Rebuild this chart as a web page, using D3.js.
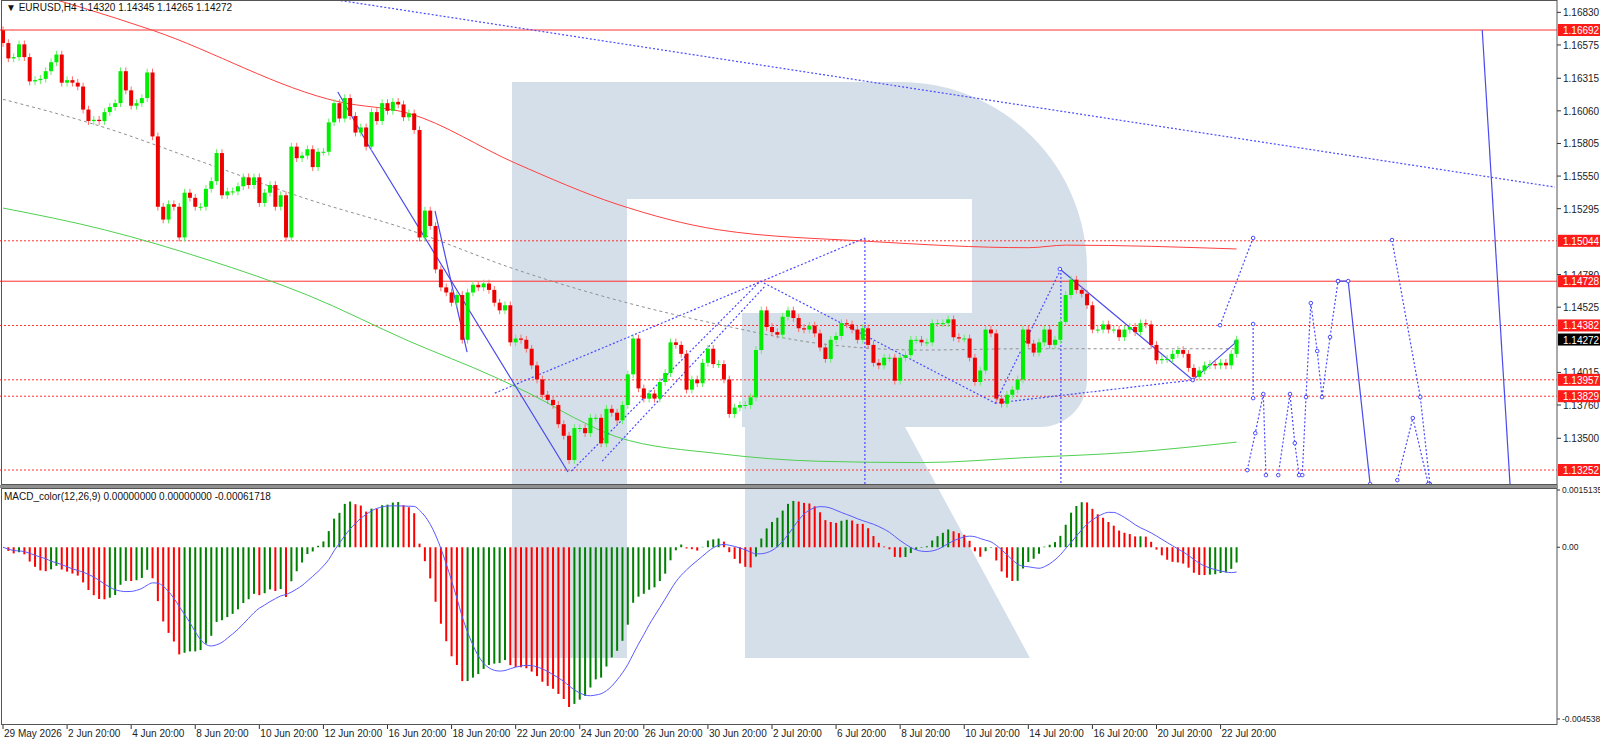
<!DOCTYPE html>
<html>
<head>
<meta charset="utf-8">
<script src="https://cdn.jsdelivr.net/npm/d3@7"></script>
<style>
  html, body { margin: 0; padding: 0; background: #fff; }
  text { font-family: "Liberation Sans", "DejaVu Sans", sans-serif; }
</style>
</head>
<body>
<svg id="chart" width="1600" height="741"></svg>
<script>
// H4 closes, 29 May 2026 -> 22 Jul 2026 20:00
const firstOpen = 1.1669;
const closes = [
  1.1659,1.1647,1.1648,1.1658,1.1648,1.1629,1.1630,1.1631,1.1637,1.1644,
  1.1650,1.1628,1.1630,1.1628,1.1625,1.1607,1.1598,1.1599,1.1598,1.1605,
  1.1609,1.1612,1.1637,1.1622,1.1610,1.1612,1.1616,1.1636,1.1586,1.1531,
  1.1521,1.1533,1.1531,1.1507,1.1542,1.1538,1.1531,1.1531,1.1545,1.1551,
  1.1573,1.1540,1.1543,1.1543,1.1547,1.1554,1.1548,1.1554,1.1534,1.1542,
  1.1548,1.1531,1.1540,1.1507,1.1578,1.1569,1.1571,1.1576,1.1562,1.1574,
  1.1574,1.1597,1.1612,1.1600,1.1616,1.1602,1.1589,1.1593,1.1578,1.1605,
  1.1598,1.1612,1.1606,1.1613,1.1611,1.1601,1.1604,1.1591,1.1507,
  1.1528,1.1516,1.1482,1.1468,1.1464,1.1456,1.1462,1.1427,1.1464,1.1470,
  1.1468,1.1471,1.1466,1.1456,1.1450,1.1454,1.1425,1.1428,1.1427,1.1420,
  1.1407,1.1396,1.1384,1.1380,1.1376,1.1361,1.1352,1.1333,1.1358,1.1358,
  1.1354,1.1366,1.1366,1.1346,1.1373,1.1370,1.1364,1.1376,1.1400,1.1428,
  1.1389,1.1381,1.1385,1.1381,1.1394,1.1401,1.1425,1.1423,1.1416,1.1388,
  1.1396,1.1393,1.1409,1.1420,1.1408,1.1408,1.1396,1.1369,1.1374,1.1376,
  1.1376,1.1382,1.1419,1.1450,1.1437,1.1433,1.1431,1.1445,1.1450,1.1444,
  1.1436,1.1435,1.1438,1.1432,1.1421,1.1412,1.1427,
  1.1430,1.1440,1.1439,1.1435,1.1427,1.1436,1.1423,1.1409,1.1407,1.1413,
  1.1413,1.1395,1.1413,1.1415,1.1427,1.1427,1.1425,1.1425,1.1440,1.1440,
  1.1440,1.1443,1.1429,1.1428,1.1428,1.1413,1.1394,1.1403,1.1435,1.1432,
  1.1381,1.1377,1.1384,1.1388,1.1396,1.1435,1.1424,1.1417,1.1425,1.1435,
  1.1423,1.1427,1.1441,1.1462,1.1474,1.1466,1.1463,1.1454,1.1435,1.1435,
  1.1439,1.1435,1.1435,1.1429,1.1435,1.1437,1.1433,1.1440,1.1439,1.1423,
  1.1411,1.1412,1.1412,1.1416,1.1419,1.1416,1.1405,1.1398,1.1403,1.1407,
  1.1408,1.1407,1.1409,1.1407,1.1416,1.14272
];
const wickPad = 0.0003;

const dateLabels = ["29 May 2026","2 Jun 20:00","4 Jun 20:00","8 Jun 20:00","10 Jun 20:00",
  "12 Jun 20:00","16 Jun 20:00","18 Jun 20:00","22 Jun 20:00","24 Jun 20:00","26 Jun 20:00",
  "30 Jun 20:00","2 Jul 20:00","6 Jul 20:00","8 Jul 20:00","10 Jul 20:00","14 Jul 20:00",
  "16 Jul 20:00","20 Jul 20:00","22 Jul 20:00"];
const labelEvery = 12;

const priceTicks = [1.16830,1.16575,1.16315,1.16060,1.15805,1.15550,1.15295,1.14780,1.14525,1.14015,1.13760,1.13500];
const solidLevels = [1.16692, 1.14728];
const dottedLevels = [1.15044, 1.14382, 1.13957, 1.13829, 1.13252];
const lastPrice = 1.14272;

// moving averages, [bar, price]
const maRed = [[0,1.1705],[28,1.1669],[63,1.1613],[76,1.1604],[96,1.1565],[115,1.1533],[134,1.1513],[162,1.1504],[192,1.1499],[199,1.1501],[231,1.1498]];
const maGray = [[0,1.1615],[19,1.1593],[38,1.1565],[57,1.1537],[76,1.1513],[96,1.1482],[115,1.1458],[134,1.1439],[153,1.1424],[172,1.1419],[192,1.1420],[231,1.1420]];
const maGreen = [[0,1.1530],[19,1.1513],[38,1.1490],[57,1.1462],[76,1.1426],[92,1.1398],[100,1.1382],[107,1.1366],[115,1.1351],[134,1.1338],[153,1.1332],[172,1.1331],[192,1.1335],[211,1.1339],[231,1.1347]];

// wave markup, [bar, price]
const solidWaves = [
  [[62.7,1.16207],[68.4,1.15793],[105.8,1.13236]],
  [[80.9,1.15277],[86.9,1.14174]],
  [[197.9,1.14823],[222.8,1.13955],[230.9,1.14252]],
  [[250.0,1.14729],[251.9,1.14729],[256.0,1.13142]],
  [[277.0,1.16692],[282.2,1.13142]]
];
const dottedWaves = [
  [[62.5,1.16927],[290.6,1.15464]],
  [[92.1,1.13853],[161.4,1.15066]],
  [[106.4,1.13243],[141.8,1.14729]],
  [[112.2,1.13322],[142.7,1.14690]],
  [[141.8,1.14729],[185.8,1.13775],[198.1,1.14823]],
  [[185.8,1.13775],[222.8,1.13955]],
  [[161.4,1.15066],[161.4,1.13142]],
  [[198.1,1.14823],[198.1,1.13142]],
  [[227.9,1.14384],[234.1,1.15066]],
  [[234.1,1.14393],[234.1,1.13814]],
  [[233.0,1.13251],[234.5,1.13540],[236.0,1.13846],[236.5,1.13212]],
  [[238.8,1.13212],[241.0,1.13846],[241.9,1.13462],[242.7,1.13212]],
  [[243.3,1.13212],[244.0,1.13822],[244.9,1.14557],[246.1,1.14182],[247.0,1.13822],[248.5,1.14291],[250.0,1.14729]],
  [[260.1,1.15050],[265.4,1.13822],[267.2,1.13142]],
  [[261.1,1.13173],[264.0,1.13658],[266.9,1.13142]]
];
const macdTop = 0.0015135, macdBottom = -0.0045389;

// ---------- layout ----------
const svg = d3.select("#chart");
const axisX = 1557, mainTop = 0, mainBottom = 484, macdTopY = 489, macdBottomY = 725;

const x = d3.scaleLinear().domain([0, 291]).range([3, axisX]);
const y = d3.scaleLinear().domain([1.16692, 1.13252]).range([30, 470]);
const ym = d3.scaleLinear().domain([macdBottom, macdTop]).range([719, 490]);

// candles
const bars = closes.map((c, i) => {
  const o = i === 0 ? firstOpen : closes[i - 1];
  return { i, o, c, h: Math.max(o, c) + wickPad, l: Math.min(o, c) - wickPad };
});

// MACD 12/26/9 from closes
const ema = (arr, n) => { const k = 2 / (n + 1); let e = arr[0]; return arr.map(v => (e = v * k + e * (1 - k))); };
const e12 = ema(closes, 12), e26 = ema(closes, 26);
const macd = closes.map((_, i) => e12[i] - e26[i]);
const signal = macd.map((_, i) => d3.mean(macd.slice(Math.max(0, i - 8), i + 1)));

// clip for panels
const defs = svg.append("defs");
defs.append("clipPath").attr("id", "mainClip").append("rect")
  .attr("x", 0).attr("y", mainTop).attr("width", axisX).attr("height", mainBottom);
defs.append("clipPath").attr("id", "macdClip").append("rect")
  .attr("x", 0).attr("y", macdTopY).attr("width", axisX).attr("height", macdBottomY - macdTopY);

// watermark "R"
svg.append("path")
  .attr("fill", "#d5dfea")
  .attr("d", "M512,82 H900 A187,187 0 0 1 1087,269 V380 A47,47 0 0 1 1040,427 H905 L1030,658 H745 V427 H742 V313 H972 V199 H627 V658 H512 Z");

const main = svg.append("g").attr("clip-path", "url(#mainClip)");

const line = d3.line().x(d => x(d[0])).y(d => y(d[1]));
const smooth = d3.line().x(d => x(d[0])).y(d => y(d[1])).curve(d3.curveMonotoneX);

// horizontal levels
main.selectAll(".solidLvl").data(solidLevels).join("line")
  .attr("x1", 0).attr("x2", axisX).attr("y1", d => y(d)).attr("y2", d => y(d))
  .attr("stroke", "#ff3030").attr("stroke-width", 1);
main.selectAll(".dotLvl").data(dottedLevels).join("line")
  .attr("x1", 0).attr("x2", axisX).attr("y1", d => y(d)).attr("y2", d => y(d))
  .attr("stroke", "#ff3030").attr("stroke-width", 1).attr("stroke-dasharray", "2,2");

// moving averages
main.append("path").datum(maRed).attr("d", smooth).attr("fill", "none").attr("stroke", "#ff4040").attr("stroke-width", 1);
main.append("path").datum(maGray).attr("d", smooth).attr("fill", "none").attr("stroke", "#909090").attr("stroke-width", 1).attr("stroke-dasharray", "3,3");
main.append("path").datum(maGreen).attr("d", smooth).attr("fill", "none").attr("stroke", "#50d050").attr("stroke-width", 1);

// wave markup
dottedWaves.forEach(w => main.append("path").datum(w).attr("d", line)
  .attr("fill", "none").attr("stroke", "#4a4aff").attr("stroke-width", 1.2).attr("stroke-dasharray", "2,2"));
solidWaves.forEach(w => main.append("path").datum(w).attr("d", line)
  .attr("fill", "none").attr("stroke", "#4a4aee").attr("stroke-width", 1.2));
const nodes = dottedWaves.slice(8).flat().concat(solidWaves.slice(2, 4).flat());
main.selectAll(".node").data(nodes).join("circle")
  .attr("cx", d => x(d[0])).attr("cy", d => y(d[1])).attr("r", 1.8)
  .attr("fill", "#fff").attr("stroke", "#4a4aff").attr("stroke-width", 1);

// candles
const cg = main.append("g");
cg.selectAll(".wick").data(bars).join("line")
  .attr("x1", d => x(d.i)).attr("x2", d => x(d.i))
  .attr("y1", d => y(d.h)).attr("y2", d => y(d.l))
  .attr("stroke", d => d.c >= d.o ? "#66ee66" : "#ff6a6a").attr("stroke-width", 1);
cg.selectAll(".body").data(bars).join("rect")
  .attr("x", d => x(d.i) - 2).attr("width", 4)
  .attr("y", d => y(Math.max(d.o, d.c)))
  .attr("height", d => Math.max(1, Math.abs(y(d.o) - y(d.c))))
  .attr("fill", d => d.c >= d.o ? "#00ee00" : "#ee0000");

// MACD panel
const mg = svg.append("g").attr("clip-path", "url(#macdClip)");
mg.selectAll(".mbar").data(macd).join("line")
  .attr("x1", (d, i) => x(i)).attr("x2", (d, i) => x(i))
  .attr("y1", ym(0)).attr("y2", d => ym(d))
  .attr("stroke", (d, i) => i > 0 && d < macd[i - 1] ? "#ff0000" : "#008000").attr("stroke-width", 2);
mg.append("path").datum(signal)
  .attr("d", d3.line().x((d, i) => x(i)).y(d => ym(d)).curve(d3.curveMonotoneX))
  .attr("fill", "none").attr("stroke", "#5a5aff").attr("stroke-width", 1);

// frames
svg.append("rect").attr("x", 1.5).attr("y", 0.5).attr("width", axisX - 1.5).attr("height", mainBottom)
  .attr("fill", "none").attr("stroke", "#555");
svg.append("rect").attr("x", 0).attr("y", mainBottom + 1).attr("width", axisX + 1).attr("height", 3).attr("fill", "#909090");
svg.append("rect").attr("x", 1.5).attr("y", macdTopY - 0.5).attr("width", axisX - 1.5).attr("height", macdBottomY - macdTopY)
  .attr("fill", "none").attr("stroke", "#555");

// price axis
const axisG = svg.append("g");
axisG.selectAll(".pt").data(priceTicks).join("line")
  .attr("x1", axisX).attr("x2", axisX + 4).attr("y1", d => y(d)).attr("y2", d => y(d)).attr("stroke", "#333");
axisG.selectAll(".ptl").data(priceTicks).join("text")
  .attr("x", axisX + 6).attr("y", d => y(d) + 4).attr("font-size", 10).attr("fill", "#222")
  .text(d => d.toFixed(5));
const tags = solidLevels.concat(dottedLevels).map(v => ({ v, bg: "#ff1a1a" })).concat([{ v: lastPrice, bg: "#000" }]);
const tg = axisG.selectAll(".tag").data(tags).join("g");
tg.append("rect").attr("x", axisX + 1).attr("y", d => y(d.v) - 6).attr("width", 42).attr("height", 12).attr("fill", d => d.bg);
tg.append("text").attr("x", axisX + 6).attr("y", d => y(d.v) + 4).attr("font-size", 10).attr("fill", "#fff").text(d => d.v.toFixed(5));

// MACD axis
const macdTicks = [macdTop, 0, macdBottom];
axisG.selectAll(".mt").data(macdTicks).join("text")
  .attr("x", axisX + 5).attr("y", d => ym(d) + 3).attr("font-size", 8.5).attr("fill", "#222")
  .text(d => d === 0 ? "0.00" : d.toFixed(7));
axisG.selectAll(".mtk").data(macdTicks).join("line")
  .attr("x1", axisX).attr("x2", axisX + 3).attr("y1", d => ym(d)).attr("y2", d => ym(d)).attr("stroke", "#333");

// time axis
const dg = svg.append("g");
dg.selectAll(".dt").data(dateLabels).join("line")
  .attr("x1", (d, i) => x(i * labelEvery)).attr("x2", (d, i) => x(i * labelEvery))
  .attr("y1", macdBottomY).attr("y2", macdBottomY + 4).attr("stroke", "#333");
dg.selectAll(".dl").data(dateLabels).join("text")
  .attr("x", (d, i) => x(i * labelEvery) + 1).attr("y", 737).attr("font-size", 10).attr("fill", "#222")
  .text(d => d);

// captions
svg.append("text").attr("x", 6).attr("y", 11).attr("font-size", 10).attr("fill", "#111")
  .text("\u25BC EURUSD,H4  1.14320 1.14345 1.14265 1.14272");
svg.append("text").attr("x", 4).attr("y", 500).attr("font-size", 10).attr("fill", "#111")
  .text("MACD_color(12,26,9) 0.00000000 0.00000000 -0.00061718");
</script>
</body>
</html>
